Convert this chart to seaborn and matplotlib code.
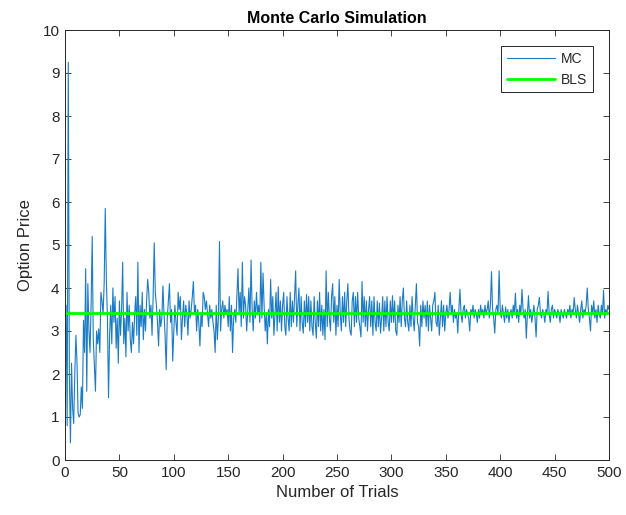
import numpy as np
import pandas as pd
import matplotlib
matplotlib.use("Agg")
import matplotlib.pyplot as plt
import seaborn as sns

mc_prices = [
    3.6, 0.8, 9.25, 2.0, 0.4, 2.25, 1.2, 0.85, 2.0, 2.9,
    2.3, 1.1, 1.0, 1.05, 1.7, 1.2, 3.25, 2.5, 4.45, 1.6,
    4.1, 3.0, 2.5, 3.6, 5.2, 2.8, 2.2, 1.6, 3.0, 2.7,
    3.05, 2.5, 3.9, 3.7, 3.4, 4.1, 5.85, 4.2, 3.3, 1.45,
    2.9, 3.6, 2.7, 4.0, 3.2, 3.8, 2.6, 3.3, 2.25, 3.7,
    2.9, 3.5, 4.6, 2.7, 3.3, 2.4, 3.9, 3.0, 3.6, 2.8,
    2.5, 3.2, 2.7, 3.4, 3.8, 2.9, 4.6, 2.5, 3.6, 3.1,
    3.9, 2.8, 3.5, 3.0, 3.7, 4.2, 3.9, 3.3, 3.6, 2.9,
    3.8, 5.05, 3.9, 3.6, 3.2, 2.65, 3.5, 3.1, 3.3, 4.05,
    3.4, 2.9, 2.1, 3.3, 3.7, 4.1, 3.2, 3.5, 2.3, 3.0,
    3.6, 3.2, 2.9, 3.9, 3.5, 3.8, 2.8, 3.3, 3.7, 3.1,
    3.6, 3.4, 2.9, 3.7, 3.3, 3.5, 3.8, 4.15, 3.4, 3.6,
    3.0, 3.5, 3.2, 2.65, 3.4, 3.1, 3.9, 3.8, 3.5, 3.7,
    3.4, 3.1, 3.6, 3.3, 3.5, 3.2, 3.0, 2.5, 3.6, 2.8,
    3.3, 5.08, 3.0, 3.5, 3.7, 3.3, 3.6, 3.4, 3.5, 3.1,
    3.8, 3.0, 3.6, 2.5, 3.3, 3.5, 3.2, 3.8, 4.45, 3.4,
    3.9, 3.1, 4.6, 3.3, 3.8, 3.6, 3.0, 3.5, 4.0, 3.2,
    4.65, 3.5, 3.0, 3.7, 3.3, 3.9, 3.4, 3.6, 3.2, 4.6,
    3.3, 4.35, 3.6, 3.0, 3.4, 2.7, 3.5, 3.1, 4.2, 3.3,
    3.8, 2.9, 3.4, 3.9, 3.0, 4.03, 3.2, 3.7, 3.0, 3.6,
    3.9, 3.1, 2.9, 3.8, 3.3, 3.0, 3.9, 3.1, 3.7, 3.2,
    3.8, 4.4, 3.1, 3.6, 4.0, 3.0, 3.8, 3.2, 2.95, 3.7,
    3.1, 3.85, 3.2, 3.8, 3.0, 3.7, 3.1, 2.9, 3.8, 3.2,
    2.83, 3.7, 3.1, 3.9, 3.0, 3.6, 2.9, 3.5, 2.8, 4.4,
    3.1, 3.9, 3.3, 3.0, 3.8, 4.1, 3.2, 3.8, 2.9, 3.6,
    3.1, 4.2, 3.4, 3.0, 3.8, 3.2, 3.9, 3.1, 3.7, 4.1,
    3.3, 3.0, 2.9, 3.7, 3.9, 3.1, 3.8, 3.2, 3.9, 3.3,
    3.1, 2.86, 4.15, 3.2, 3.8, 3.1, 3.7, 3.0, 3.5, 3.8,
    3.1, 3.7, 2.9, 3.8, 3.2, 3.0, 3.7, 3.1, 3.65, 2.95,
    3.3, 3.8, 3.0, 3.7, 3.1, 3.8, 3.2, 3.0, 3.7, 3.2,
    3.82, 3.2, 3.7, 3.0, 2.9, 3.6, 3.2, 3.8, 3.1, 3.7,
    4.0, 3.3, 3.1, 3.7, 3.2, 3.0, 3.6, 3.1, 3.8, 3.3,
    3.0, 3.6, 4.1, 3.2, 3.1, 2.65, 3.6, 3.1, 3.7, 3.3,
    3.6, 3.1, 3.7, 3.0, 3.6, 3.3, 3.0, 3.6, 3.7, 3.9,
    3.2, 3.1, 3.6, 2.9, 3.3, 3.7, 3.1, 3.6, 3.0, 3.4,
    3.6, 3.3, 3.5, 3.9, 3.4, 3.6, 3.2, 3.5, 3.3, 3.4,
    2.95, 3.5, 3.97, 3.4, 3.2, 3.5, 3.6, 3.3, 3.5, 3.4,
    3.3, 3.0, 3.5, 3.4, 3.6, 3.3, 3.5, 3.4, 3.2, 3.5,
    3.3, 3.6, 3.4, 3.5, 3.3, 3.6, 3.4, 3.5, 3.7, 3.3,
    3.6, 4.38, 3.5, 3.3, 2.95, 3.5, 3.6, 3.4, 4.4, 3.5,
    3.3, 3.6, 3.4, 3.2, 3.56, 3.3, 3.5, 3.2, 3.4, 3.5,
    3.3, 3.6, 3.4, 3.88, 3.3, 3.5, 3.2, 3.6, 3.4, 3.97,
    3.5, 3.3, 3.5, 2.83, 3.4, 3.82, 3.3, 3.5, 3.2, 3.4,
    3.6, 3.3, 2.86, 3.5, 3.6, 3.78, 3.4, 3.3, 3.5, 3.4,
    3.2, 3.5, 3.4, 3.92, 3.4, 3.2, 3.5, 3.6, 3.3, 3.5,
    3.4, 3.3, 3.5, 3.4, 3.2, 3.5, 3.4, 3.3, 3.5, 3.4,
    3.3, 3.5, 3.4, 3.6, 3.3, 3.5, 3.4, 3.78, 3.5, 3.3,
    3.6, 3.4, 3.2, 3.5, 3.7, 3.3, 3.5, 3.4, 3.6, 4.0,
    3.5, 3.3, 3.0, 3.6, 3.4, 3.7, 3.3, 3.5, 3.2, 3.6,
    3.4, 3.3, 3.6, 3.4, 3.95, 3.3, 3.5, 3.4, 3.6, 3.5,
]
trials = list(range(1, len(mc_prices) + 1))
bls_price = 3.42

x_ticks = [0, 50, 100, 150, 200, 250, 300, 350, 400, 450, 500]
y_ticks = [0, 1, 2, 3, 4, 5, 6, 7, 8, 9, 10]

df = pd.DataFrame({"trial": trials, "MC": mc_prices,
                   "BLS": [bls_price] * len(trials)})

sns.set_theme(style="ticks")
plt.rcParams["font.family"] = ["Liberation Sans", "DejaVu Sans"]

fig = plt.figure(figsize=(6.26, 5.15), dpi=100)
ax = fig.add_axes([65 / 626, 1 - 460 / 515, (609 - 65) / 626, (460 - 30) / 515])

sns.lineplot(data=df, x="trial", y="MC", ax=ax, color="#1a7cc4",
             linewidth=0.8, label="MC")
sns.lineplot(data=df, x="trial", y="BLS", ax=ax, color="#00FF00",
             linewidth=2.0, label="BLS")

ax.set_xlim(0, 500)
ax.set_ylim(0, 10)
ax.set_xticks(x_ticks)
ax.set_yticks(y_ticks)
ax.tick_params(direction="in", top=True, right=True, length=4,
               width=0.6, labelsize=11, colors="#262626", pad=4)
for s in ax.spines.values():
    s.set_color("#262626")
    s.set_linewidth(0.7)
    s.set_visible(True)

ax.set_xlabel("Number of Trials", fontsize=12, color="#262626")
ax.set_ylabel("Option Price", fontsize=12, color="#262626", labelpad=7)
ax.set_title("Monte Carlo Simulation", fontsize=11.5, fontweight="bold",
             color="black", pad=5)

leg = ax.legend(loc="upper right", fontsize=10, frameon=True, fancybox=False,
                edgecolor="#262626", framealpha=1, borderpad=0.4,
                handlelength=3.5, handletextpad=0.4, labelspacing=0.5,
                bbox_to_anchor=(0.983, 0.978))
leg.get_frame().set_linewidth(0.7)

fig.savefig("out.png", dpi=100, facecolor="white")
